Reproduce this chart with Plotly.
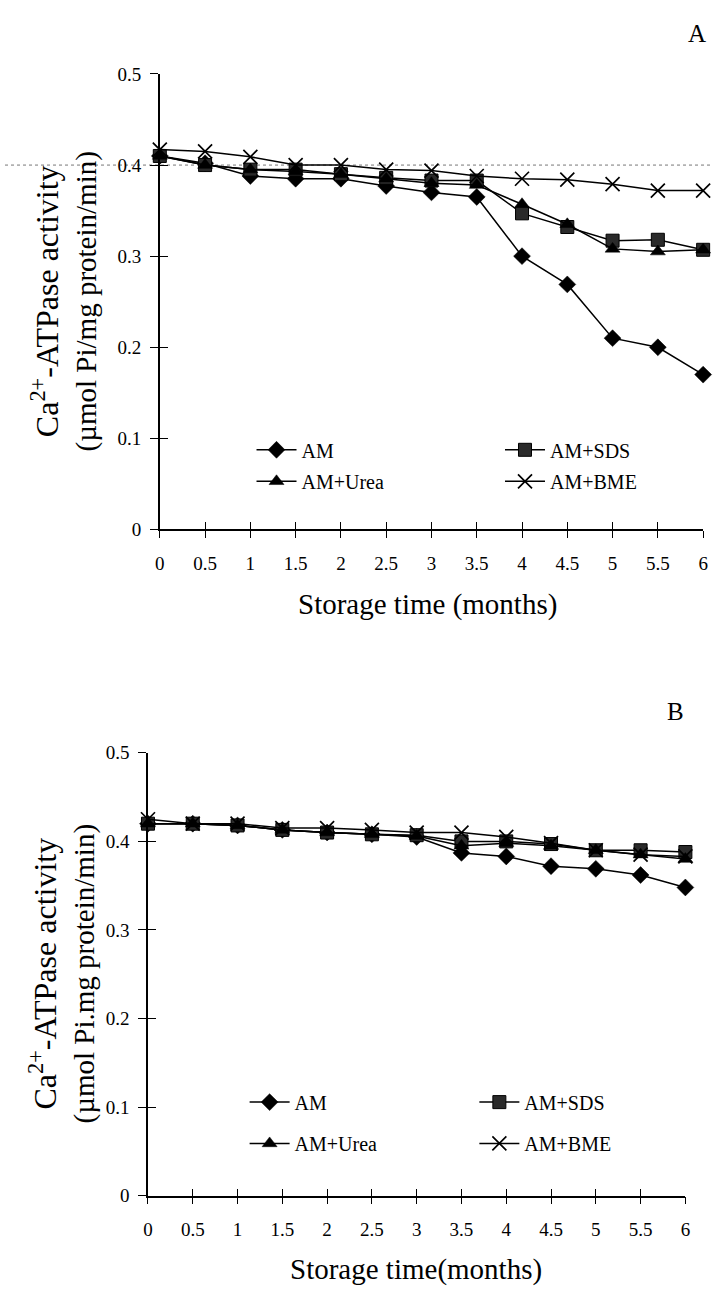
import plotly.graph_objects as go

# ---------------- data ----------------
months = [0, 0.5, 1, 1.5, 2, 2.5, 3, 3.5, 4, 4.5, 5, 5.5, 6]
month_labels = ["0", "0.5", "1", "1.5", "2", "2.5", "3", "3.5", "4", "4.5", "5", "5.5", "6"]
y_ticks = [0, 0.1, 0.2, 0.3, 0.4, 0.5]
y_tick_labels = ["0", "0.1", "0.2", "0.3", "0.4", "0.5"]
series_names = ["AM", "AM+SDS", "AM+Urea", "AM+BME"]

# Panel A
a_am   = [0.410, 0.402, 0.388, 0.385, 0.385, 0.377, 0.370, 0.365, 0.300, 0.269, 0.210, 0.200, 0.170]
a_sds  = [0.410, 0.400, 0.395, 0.395, 0.390, 0.386, 0.383, 0.383, 0.347, 0.332, 0.317, 0.318, 0.307]
a_urea = [0.410, 0.400, 0.395, 0.393, 0.390, 0.385, 0.380, 0.378, 0.357, 0.335, 0.308, 0.305, 0.307]
a_bme  = [0.417, 0.415, 0.409, 0.400, 0.400, 0.395, 0.394, 0.388, 0.385, 0.384, 0.379, 0.372, 0.372]

# Panel B
b_am   = [0.420, 0.420, 0.418, 0.413, 0.410, 0.408, 0.405, 0.387, 0.383, 0.372, 0.369, 0.362, 0.348]
b_sds  = [0.420, 0.420, 0.418, 0.413, 0.410, 0.408, 0.407, 0.400, 0.400, 0.397, 0.390, 0.390, 0.388]
b_urea = [0.420, 0.420, 0.418, 0.413, 0.410, 0.408, 0.406, 0.395, 0.398, 0.395, 0.390, 0.385, 0.380]
b_bme  = [0.425, 0.420, 0.420, 0.415, 0.415, 0.413, 0.410, 0.410, 0.405, 0.398, 0.390, 0.385, 0.383]

# ---------------- styling ----------------
W, H = 717, 1304
FONT = "Liberation Serif"
symbols = {"AM": "diamond", "AM+SDS": "square", "AM+Urea": "triangle-up", "AM+BME": "x-thin"}
msizes = {"AM": 13, "AM+SDS": 13, "AM+Urea": 13, "AM+BME": 14}


def px_x(p):
    return p / W


def px_y(p):
    return 1 - p / H


fig = go.Figure()


def add_series(x, y, name, xa, ya, legend):
    sym = symbols[name]
    if sym == "x-thin":
        marker = dict(symbol=sym, size=msizes[name], color="black",
                      line=dict(color="black", width=1.7))
    elif sym == "square":
        marker = dict(symbol=sym, size=msizes[name], color="#2a2a2a",
                      line=dict(color="black", width=1))
    else:
        marker = dict(symbol=sym, size=msizes[name], color="black",
                      line=dict(color="black", width=0.5))
    fig.add_trace(go.Scatter(
        x=x, y=y, name=name, mode="lines+markers",
        line=dict(color="black", width=1.5),
        marker=marker, xaxis=xa, yaxis=ya, legend=legend,
        cliponaxis=False, showlegend=True))


panel_a = [a_am, a_sds, a_urea, a_bme]
panel_b = [b_am, b_sds, b_urea, b_bme]
legends_a = ["legend", "legend2", "legend3", "legend4"]
legends_b = ["legend5", "legend6", "legend7", "legend8"]
for vals, nm, lg in zip(panel_a, series_names, legends_a):
    add_series(months, vals, nm, "x", "y", lg)
for vals, nm, lg in zip(panel_b, series_names, legends_b):
    add_series(months, vals, nm, "x2", "y2", lg)

tickfont = dict(family=FONT, size=19, color="black")


def xaxis_cfg(domain, anchor):
    return dict(domain=domain, anchor=anchor, range=[0, 6], showgrid=False, zeroline=False,
                showline=True, linecolor="black", linewidth=1.5,
                ticks="outside", ticklen=7, tickwidth=1.3, tickcolor="black",
                tickvals=months, ticktext=month_labels, tickfont=tickfont,
                ticklabelstandoff=9)


def yaxis_cfg(domain, anchor):
    return dict(domain=domain, anchor=anchor, range=[0, 0.5], showgrid=False, zeroline=False,
                showline=True, linecolor="black", linewidth=1.5,
                ticks="outside", ticklen=8, tickwidth=1.3, tickcolor="black",
                tickvals=y_ticks, ticktext=y_tick_labels, tickfont=tickfont,
                ticklabelstandoff=5)


def overlay_x(over, anchor):
    return dict(overlaying=over, anchor=anchor, range=[0, 6], showgrid=False, zeroline=False,
                showline=False, ticks="inside", ticklen=7, tickwidth=1.3, tickcolor="black",
                tickvals=months, showticklabels=False)


def overlay_y(over, anchor):
    return dict(overlaying=over, anchor=anchor, range=[0, 0.5], showgrid=False, zeroline=False,
                showline=False, ticks="inside", ticklen=8, tickwidth=1.3, tickcolor="black",
                tickvals=y_ticks, showticklabels=False)


# Panel geometry (pixels)
A_x0, A_x1, A_ytop, A_ybot = 157, 708, 65, 528
B_x0, B_x1, B_ytop, B_ybot = 145, 690, 755, 1205

legfont = dict(family=FONT, size=20, color="black")


def legend_cfg(x, y):
    return dict(x=px_x(x), y=px_y(y), xanchor="left", yanchor="middle", orientation="v",
                bgcolor="rgba(0,0,0,0)", font=legfont, itemwidth=40, borderwidth=0)


fig.update_layout(
    width=W, height=H, margin=dict(l=0, r=0, t=0, b=0),
    paper_bgcolor="white", plot_bgcolor="white",
    font=dict(family=FONT, color="black"),
    xaxis=xaxis_cfg([px_x(A_x0), px_x(A_x1)], "y"),
    yaxis=yaxis_cfg([px_y(A_ybot), px_y(A_ytop)], "x"),
    xaxis2=xaxis_cfg([px_x(B_x0), px_x(B_x1)], "y2"),
    yaxis2=yaxis_cfg([px_y(B_ybot), px_y(B_ytop)], "x2"),
    xaxis3=overlay_x("x", "y"),
    yaxis3=overlay_y("y", "x"),
    xaxis4=overlay_x("x2", "y2"),
    yaxis4=overlay_y("y2", "x2"),
    legend=legend_cfg(250, 447),
    legend2=legend_cfg(502, 447),
    legend3=legend_cfg(250, 479),
    legend4=legend_cfg(502, 479),
    legend5=legend_cfg(243, 1110),
    legend6=legend_cfg(476, 1110),
    legend7=legend_cfg(243, 1152),
    legend8=legend_cfg(476, 1152),
    showlegend=True,
)

# invisible helper traces so the overlay (double-sided tick) axes render
for xa, ya in (("x3", "y"), ("x", "y3"), ("x4", "y2"), ("x2", "y4")):
    fig.add_trace(go.Scatter(x=[None], y=[None], xaxis=xa, yaxis=ya, showlegend=False,
                             hoverinfo="skip"))

# scan artifact: dotted horizontal line across the page at 0.4 of panel A
fig.add_shape(type="line", xref="paper", yref="y", x0=0, x1=1, y0=0.4, y1=0.4,
              line=dict(color="#777", width=1, dash="dot"), layer="below")

ytitle_a = ("<span style='font-size:32px'>Ca<sup>2+</sup>-ATPase activity</span><br>"
            "(µmol Pi/mg protein/min)")
ytitle_b = ("<span style='font-size:32px'>Ca<sup>2+</sup>-ATPase activity</span><br>"
            "(µmol Pi.mg protein/min)")
ytitle_font = dict(family=FONT, size=29, color="black")
xtitle_font = dict(family=FONT, size=29, color="black")
fig.add_annotation(text=ytitle_a, xref="paper", yref="paper", x=px_x(60), y=px_y(296),
                   textangle=-90, showarrow=False, font=ytitle_font,
                   xanchor="center", yanchor="middle")
fig.add_annotation(text=ytitle_b, xref="paper", yref="paper", x=px_x(58), y=px_y(980),
                   textangle=-90, showarrow=False, font=ytitle_font,
                   xanchor="center", yanchor="middle")
fig.add_annotation(text="Storage time (months)", xref="paper", yref="paper",
                   x=px_x(428), y=px_y(604), showarrow=False, font=xtitle_font,
                   xanchor="center", yanchor="middle")
fig.add_annotation(text="Storage time(months)", xref="paper", yref="paper",
                   x=px_x(417), y=px_y(1280), showarrow=False, font=xtitle_font,
                   xanchor="center", yanchor="middle")
fig.add_annotation(text="A", xref="paper", yref="paper", x=px_x(702), y=px_y(24),
                   showarrow=False, font=dict(family=FONT, size=25, color="black"),
                   xanchor="center", yanchor="middle")
fig.add_annotation(text="B", xref="paper", yref="paper", x=px_x(680), y=px_y(713),
                   showarrow=False, font=dict(family=FONT, size=25, color="black"),
                   xanchor="center", yanchor="middle")

fig.write_html("out.html")
